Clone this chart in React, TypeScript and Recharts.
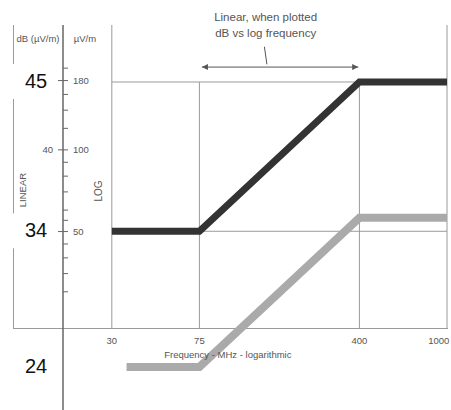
import { LineChart, Line, XAxis, YAxis, ReferenceLine, ReferenceDot } from 'recharts'

// upper (dark) and lower (grey) level curves, dB(µV/m) against MHz
const upperFreq = [30, 75, 400, 1000]
const upperDb = [34, 34, 45, 45]
const lowerFreq = [35, 75, 400, 1000]
const lowerDb = [24, 24, 35, 35]

const freqTicks = [30, 75, 400, 1000]
const fullHeightFreqs = [30, 1000]
const uvTicks = [200, 180, 160, 140, 120, 100, 90, 80, 70, 60, 55, 50, 45, 40, 35, 30]
const uvLabels = [180, 100, 50]
const dbSmallLabels = [40]
const dbBigLabels = [45, 34, 24]
const gridDb = [45, 34]

const frameDb = 26.87
const topDb = 49.2
const bottomDb = 20.83

const toDb = (uv: number) => 20 * Math.log10(uv)

const upperData = upperFreq.map((f, i) => ({ f, db: upperDb[i] }))
const lowerData = lowerFreq.map((f, i) => ({ f, db: lowerDb[i] }))
const yTicks = [...uvTicks.map(toDb), ...dbBigLabels]

const W = 451
const H = 410
const TEXT = '#555'
const GRID = '#9a9a9a'

function DbTick(props: any) {
  const { x, y, payload } = props
  const v = payload.value
  const uv = uvTicks.find((u) => Math.abs(toDb(u) - v) < 1e-6)
  if (uv === undefined) {
    return (
      <g>
        <rect x={x - 51} y={y - 18} width={34} height={35} fill="#fff" />
        <text x={x - 27} y={y + 6} textAnchor="middle" fontSize={20} fill="#111">
          {v}
        </text>
      </g>
    )
  }
  const major = uvLabels.includes(uv)
  const dbLabel = dbSmallLabels.find((d) => Math.abs(d - v) < 1e-6)
  return (
    <g>
      <line x1={major ? x - 5 : x} x2={x + 5} y1={y} y2={y} stroke="#666" strokeWidth={1} />
      {major && (
        <text x={x + 10} y={y} dy="0.35em" fontSize={9.5} fill={TEXT}>
          {uv}
        </text>
      )}
      {dbLabel !== undefined && (
        <text x={x - 10} y={y} dy="0.35em" textAnchor="end" fontSize={9.5} fill={TEXT}>
          {dbLabel}
        </text>
      )}
    </g>
  )
}

function AxisTitles(props: any) {
  const { x, y, width } = props.viewBox
  const ax = x + width
  return (
    <g fontSize={9.5} fill={TEXT}>
      <text x={ax - 25} y={y + 17} textAnchor="middle">dB (µV/m)</text>
      <text x={ax + 22} y={y + 17} textAnchor="middle">µV/m</text>
      <text x={ax - 40} y={y + 165} textAnchor="middle" dy="0.35em" transform={`rotate(-90 ${ax - 40} ${y + 165})`}>
        LINEAR
      </text>
      <text x={ax + 35} y={y + 166} textAnchor="middle" dy="0.35em" fontSize={10} transform={`rotate(-90 ${ax + 35} ${y + 166})`}>
        LOG
      </text>
    </g>
  )
}

// frequency tick label under a grid line, kept inside the picture at the right edge
function FreqLabel(props: any) {
  const { viewBox, value } = props
  const cx = viewBox.x + viewBox.width / 2
  const halfW = String(value).length * 2.8
  const x = Math.min(cx, W - halfW - 1)
  return (
    <text x={x} y={viewBox.y + viewBox.height + 16} textAnchor="middle" fontSize={9.5} fill={TEXT}>
      {value}
    </text>
  )
}

function NoteLabel(props: any) {
  const { x, y, width } = props.viewBox
  const cx = x + width / 2
  return (
    <text x={cx} y={y - 26} textAnchor="middle" fontSize={11.5} fill={TEXT}>
      <tspan x={cx}>Linear, when plotted</tspan>
      <tspan x={cx} dy={16}>dB vs log frequency</tspan>
    </text>
  )
}

export default function App() {
  return (
    <div style={{ position: 'absolute', left: 0, top: 0, width: W, height: H, background: '#fff' }}>
      <svg width={0} height={0} style={{ position: 'absolute' }}>
        <defs>
          <marker
            id="arrowHead"
            viewBox="0 0 10 10"
            refX="10"
            refY="5"
            markerWidth="9"
            markerHeight="6"
            orient="auto-start-reverse"
            markerUnits="userSpaceOnUse"
          >
            <path d="M0,0 L10,5 L0,10 z" fill={TEXT} />
          </marker>
        </defs>
      </svg>
      <div
        style={{
          position: 'absolute',
          left: 13,
          top: 25,
          width: 434,
          height: 303,
          borderLeft: `1px solid ${GRID}`,
          borderBottom: `1px solid ${GRID}`,
        }}
      />
      <LineChart
        width={W}
        height={H}
        margin={{ top: 25, right: 4, bottom: 0, left: 13 }}
        style={{ position: 'absolute', left: 0, top: 0, fontFamily: '"Liberation Sans", Arial, sans-serif' }}
      >
        <XAxis type="number" dataKey="f" scale="log" domain={[18, 1000]} hide allowDataOverflow />
        <YAxis
          type="number"
          domain={[bottomDb, topDb]}
          ticks={yTicks}
          interval={0}
          width={50}
          tickSize={0}
          tickMargin={0}
          tickLine={false}
          axisLine={{ stroke: '#666', strokeWidth: 1.5 }}
          tick={<DbTick />}
          label={<AxisTitles />}
        />
        {gridDb.map((d) => (
          <ReferenceLine
            key={`h${d}`}
            segment={[{ x: 30, y: d }, { x: 1000, y: d }]}
            stroke={GRID}
            strokeWidth={1}
          />
        ))}
        {freqTicks.map((f) => (
          <ReferenceLine
            key={`v${f}`}
            segment={[
              { x: f, y: frameDb },
              { x: f, y: fullHeightFreqs.includes(f) ? topDb : gridDb[0] },
            ]}
            stroke={GRID}
            strokeWidth={1}
            label={<FreqLabel value={f} />}
          />
        ))}
        <ReferenceLine
          segment={[{ x: 77, y: 46.1 }, { x: 395, y: 46.1 }]}
          stroke={TEXT}
          strokeWidth={1}
          markerStart="url(#arrowHead)"
          markerEnd="url(#arrowHead)"
        />
        <ReferenceLine
          segment={[{ x: 148, y: 47.6 }, { x: 152, y: 46.3 }]}
          stroke={TEXT}
          strokeWidth={1}
          label={<NoteLabel />}
        />
        <ReferenceDot
          x={101}
          y={24.88}
          r={0}
          fill="none"
          stroke="none"
          label={{ value: 'Frequency - MHz - logarithmic', position: 'center', fontSize: 9.5, fill: TEXT }}
        />
        <Line
          data={upperData}
          dataKey="db"
          type="linear"
          stroke="#333"
          strokeWidth={7}
          dot={false}
          isAnimationActive={false}
        />
        <Line
          data={lowerData}
          dataKey="db"
          type="linear"
          stroke="#aaa"
          strokeWidth={8}
          dot={false}
          isAnimationActive={false}
        />
      </LineChart>
    </div>
  )
}
